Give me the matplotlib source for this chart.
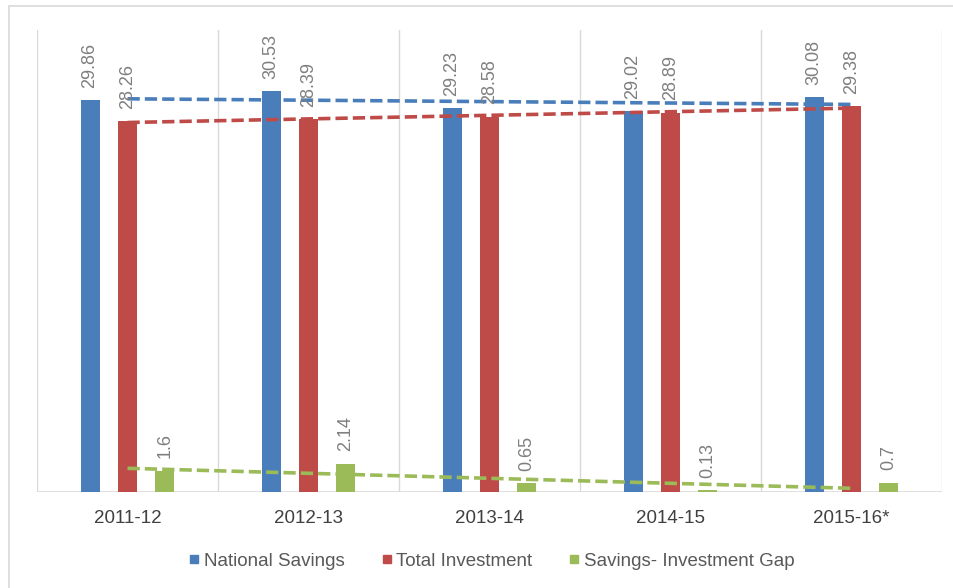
import numpy as np
import matplotlib
matplotlib.use("Agg")
import matplotlib.pyplot as plt
from matplotlib.lines import Line2D
from matplotlib.patches import Rectangle

plt.rcParams["font.family"] = ["Liberation Sans", "DejaVu Sans"]

# --- Data ---
YEARS = ["2011-12", "2012-13", "2013-14", "2014-15", "2015-16*"]
NATIONAL_SAVINGS = [29.86, 30.53, 29.23, 29.02, 30.08]
TOTAL_INVESTMENT = [28.26, 28.39, 28.58, 28.89, 29.38]
SAVINGS_GAP = [1.6, 2.14, 0.65, 0.13, 0.7]
VALUE_LABELS = {
    "National Savings": ["29.86", "30.53", "29.23", "29.02", "30.08"],
    "Total Investment": ["28.26", "28.39", "28.58", "28.89", "29.38"],
    "Savings- Investment Gap": ["1.6", "2.14", "0.65", "0.13", "0.7"],
}

SERIES = [
    ("National Savings", NATIONAL_SAVINGS, "#4A7EBB"),
    ("Total Investment", TOTAL_INVESTMENT, "#BE4B48"),
    ("Savings- Investment Gap", SAVINGS_GAP, "#9BBB59"),
]

fig = plt.figure(figsize=(9.54, 5.88), dpi=100)
ax = fig.add_axes([37 / 954, 1 - 492 / 588, 905 / 954, 462 / 588])

x = np.arange(len(YEARS))
offsets = [-0.207, 0.0, 0.207]
bar_w = 0.105

for (name, vals, color), off in zip(SERIES, offsets):
    bars = ax.bar(x + off, vals, width=bar_w, color=color, zorder=2)
    for rect, lab in zip(bars, VALUE_LABELS[name]):
        ax.annotate(lab, (rect.get_x() + rect.get_width() / 2, rect.get_height()),
                    xytext=(0, 9), textcoords="offset points",
                    rotation=90, ha="center", va="bottom",
                    fontsize=13, color="#7F7F7F", zorder=4)
    # linear trendline over category centres
    slope, icpt = np.polyfit(x, vals, 1)
    ax.plot(x, slope * x + icpt, color=color, lw=2.6,
            linestyle=(0, (3.4, 1.4)), zorder=3)

ax.set_xlim(-0.5, len(YEARS) - 0.5)
ax.set_ylim(0, 35.2)
ax.set_yticks([])
ax.set_xticks(x)
ax.set_xticklabels(YEARS, fontsize=13.5, color="#404040")
ax.tick_params(axis="x", length=0, pad=13)

for b in np.arange(-0.5, len(YEARS), 1.0):
    ax.axvline(b, color="#D9D9D9", lw=1, zorder=1)
ax.axhline(0, color="#D9D9D9", lw=1.2, zorder=1)
for s in ax.spines.values():
    s.set_visible(False)

handles = [Line2D([], [], marker="s", linestyle="none", markersize=5.5,
                  markerfacecolor=c, markeredgecolor=c) for _, _, c in SERIES]
fig.legend(handles, [s[0] for s in SERIES], loc="center",
           bbox_to_anchor=(492 / 954, 1 - 561 / 588), ncol=3, frameon=False,
           fontsize=13.5, labelcolor="#595959", handlelength=0.5,
           handletextpad=0.25, columnspacing=2.0)

# light outer frame of the chart area
fig.add_artist(Rectangle((9 / 954, -0.5), 1.0, 0.5 + 1 - 6 / 588,
                         transform=fig.transFigure, fill=False,
                         edgecolor="#D9D9D9", lw=1.2))

fig.savefig("out.png", dpi=100)
